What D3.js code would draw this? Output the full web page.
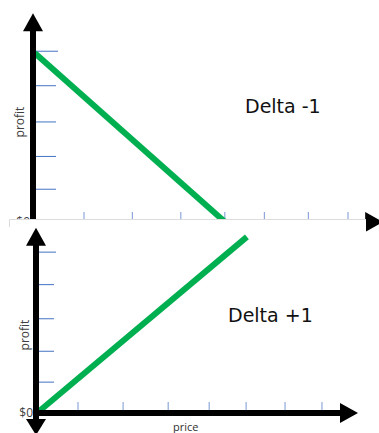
<!DOCTYPE html>
<html>
<head>
<meta charset="utf-8">
<script src="https://cdn.jsdelivr.net/npm/d3@7"></script>
<style>
body{margin:0;background:#fff;}
svg{display:block;}
</style>
</head>
<body>
<script>
const svg_width = 379, svg_height = 433;

// top panel : delta -1
var topTitle = "Delta -1";
var topPriceTicks = [1, 2.1, 3.2, 4.2, 5.1, 6.1, 7];
var topProfitTicks = [0.95, 1.9, 2.9, 3.95, 4.95];
var topLine = [{price: -0.12, profit: 4.9}, {price: 4.25, profit: -0.05}];
var topPriceExtent = [-0.2, 7.8];
var topProfitExtent = [-0.5, 6.05];

// bottom panel : delta +1
var botTitle = "Delta +1";
var botPriceTicks = [1, 2.1, 3.2, 4.2, 5.1, 6.05, 6.95];
var botProfitTicks = [0.95, 1.9, 2.9, 3.95, 4.95];
var botLine = [{price: 0, profit: 0}, {price: 5.12, profit: 5.42}];
var botPriceExtent = [-0.1, 7.83];
var botProfitExtent = [-0.68, 5.7];

var svgContainer = d3.select("body")
.append("svg")
.attr("width", svg_width)
.attr("height", svg_height);

var xTop = d3.scaleLinear().domain([0, 8]).range([40, 392]);
var yTop = d3.scaleLinear().domain([0, 5]).range([222, 49.5]);
var xBot = d3.scaleLinear().domain([0, 8]).range([37, 365]);
var yBot = d3.scaleLinear().domain([0, 5]).range([413, 250.5]);

var lineFn = function(xs, ys){
	return d3.line().x(function(d){return xs(d.price)}).y(function(d){return ys(d.profit)});
};

function drawPanel(g, xs, ys, opt){
	var ay = ys(0);
	var axX = opt.axisX;
	// ticks on price axis
	g.append("g").selectAll("line")
	.data(opt.priceTicks)
	.enter()
	.append("line")
	.attr("x1", function(d){return xs(d)})
	.attr("x2", function(d){return xs(d)})
	.attr("y1", ay - opt.xTickLen - 3)
	.attr("y2", ay - 3)
	.attr("stroke", "#8fa9dc")
	.attr("stroke-width", 1.2);
	// ticks on profit axis
	g.append("g").selectAll("line")
	.data(opt.profitTicks)
	.enter()
	.append("line")
	.attr("x1", axX + 3)
	.attr("x2", function(d, i){return axX + 3 + opt.yTickLen + (i == opt.profitTicks.length - 1 ? 2 : 0)})
	.attr("y1", function(d){return ys(d)})
	.attr("y2", function(d){return ys(d)})
	.attr("stroke", "#4472c4")
	.attr("stroke-width", 1);
	// green payoff line
	g.append("path")
	.attr("d", lineFn(xs, ys)(opt.line))
	.attr("stroke", "#00b050")
	.attr("stroke-width", 6)
	.attr("fill", "none");
	// price axis
	var xEnd = xs(opt.priceExtent[1]);
	g.append("line")
	.attr("x1", axX - 3)
	.attr("y1", ay)
	.attr("x2", xEnd - 16)
	.attr("y2", ay)
	.attr("stroke", "black")
	.attr("stroke-width", 6);
	g.append("path")
	.attr("d", "M" + xEnd + "," + ay + "L" + (xEnd - 18) + "," + (ay - 10) + "L" + (xEnd - 18) + "," + (ay + 10) + "Z")
	.attr("fill", "black");
	// profit axis
	var yTopEnd = ys(opt.profitExtent[1]), yBotEnd = ys(opt.profitExtent[0]);
	g.append("line")
	.attr("x1", axX)
	.attr("y1", yTopEnd + 16)
	.attr("x2", axX)
	.attr("y2", opt.arrowDown ? yBotEnd - 14 : yBotEnd)
	.attr("stroke", "black")
	.attr("stroke-width", 6);
	g.append("path")
	.attr("d", "M" + axX + "," + yTopEnd + "L" + (axX - 10) + "," + (yTopEnd + 18) + "L" + (axX + 10) + "," + (yTopEnd + 18) + "Z")
	.attr("fill", "black");
	if (opt.arrowDown){
		g.append("path")
		.attr("d", "M" + axX + "," + yBotEnd + "L" + (axX - 10) + "," + (yBotEnd - 16) + "L" + (axX + 10) + "," + (yBotEnd - 16) + "Z")
		.attr("fill", "black");
	}
	// labels
	g.append("text")
	.attr("transform", "translate(" + opt.profitLabel[0] + "," + opt.profitLabel[1] + ") rotate(-90)")
	.attr("text-anchor", "middle")
	.attr("dominant-baseline", "central")
	.style("font-family", "'Open Sans', sans-serif")
	.style("font-size", "12px")
	.style("fill", "#404040")
	.text("profit");
	g.append("text")
	.attr("x", axX - 3)
	.attr("y", ay + 4)
	.attr("text-anchor", "end")
	.style("font-family", "'Open Sans', sans-serif")
	.style("font-size", "12px")
	.style("fill", "#404040")
	.text("$0");
	g.append("text")
	.attr("x", opt.titlePos[0])
	.attr("y", opt.titlePos[1])
	.style("font-family", "'DejaVu Sans', sans-serif")
	.style("font-size", "19px")
	.style("fill", "#111")
	.text(opt.title);
}

var topGroup = svgContainer.append("g");
drawPanel(topGroup, xTop, yTop, {
	axisX: 33, priceExtent: topPriceExtent, profitExtent: topProfitExtent,
	priceTicks: topPriceTicks, profitTicks: topProfitTicks, line: topLine,
	xTickLen: 7, yTickLen: 20, arrowDown: false,
	profitLabel: [19, 122], titlePos: [245, 113], title: topTitle
});

// bottom picture lies over the lower edge of the top one
var botGroup = svgContainer.append("g");
botGroup.append("rect")
.attr("x", 9)
.attr("y", 219.5)
.attr("width", 357)
.attr("height", 220)
.attr("fill", "white");
botGroup.append("line")
.attr("x1", 9).attr("y1", 219.5).attr("x2", 366).attr("y2", 219.5)
.attr("stroke", "#dcdcdc").attr("stroke-width", 1);
botGroup.append("line")
.attr("x1", 9.5).attr("y1", 219.5).attr("x2", 9.5).attr("y2", 227)
.attr("stroke", "#dcdcdc").attr("stroke-width", 1);

drawPanel(botGroup, xBot, yBot, {
	axisX: 36, priceExtent: botPriceExtent, profitExtent: botProfitExtent,
	priceTicks: botPriceTicks, profitTicks: botProfitTicks, line: botLine,
	xTickLen: 8, yTickLen: 15, arrowDown: true,
	profitLabel: [24, 335], titlePos: [228, 322], title: botTitle
});

botGroup.append("text")
.attr("x", 173)
.attr("y", 431)
.style("font-family", "'Open Sans', sans-serif")
.style("font-size", "11px")
.style("fill", "#303030")
.text("price");
</script>
</body>
</html>
